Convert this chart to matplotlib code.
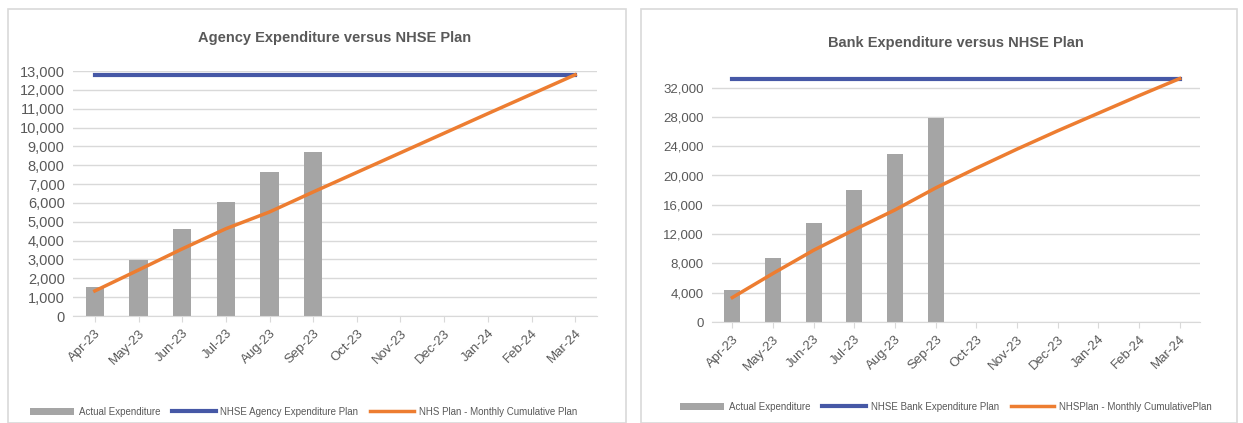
import matplotlib.pyplot as plt
from matplotlib.patches import Rectangle
import numpy as np

months = ['Apr-23', 'May-23', 'Jun-23', 'Jul-23', 'Aug-23', 'Sep-23',
          'Oct-23', 'Nov-23', 'Dec-23', 'Jan-24', 'Feb-24', 'Mar-24']

# agency (left chart)
agency_actual = [1550, 2990, 4630, 6050, 7620, 8680]
agency_plan = [12800] * 12
agency_cum = [1330, 2440, 3560, 4630, 5520, 6580, 7620, 8660, 9700, 10740, 11770, 12800]

# bank (right chart)
bank_actual = [4340, 8690, 13490, 17970, 23000, 27890]
bank_plan = [33230] * 12
bank_cum = [3340, 6630, 9800, 12600, 15300, 18300, 21000, 23600, 26100, 28500, 30900, 33230]

W, H = 1243, 423
GREY = '#A5A5A5'
BLUE = '#4658A6'
ORANGE = '#ED7D31'
TXT = '#595959'

plt.rcParams['font.family'] = ['Liberation Sans', 'DejaVu Sans']

fig = plt.figure(figsize=(W / 100, H / 100), dpi=100)

# panel frames
for x0, x1 in [(8, 626), (641, 1237)]:
    fig.patches.append(Rectangle((x0 / W, 0), (x1 - x0) / W, (H - 9) / H,
                                 transform=fig.transFigure, fill=False,
                                 edgecolor='#D9D9D9', linewidth=1.2))


def draw(ax, actual, plan, cum, ymax, ystep, title, legend_labels, bw, leg_pos,
         ytick_fs, title_pad):
    x = np.arange(len(months))
    b = ax.bar(x[:len(actual)], actual, width=bw, color=GREY, zorder=2)
    l1, = ax.plot(x, plan, color=BLUE, linewidth=3, zorder=3)
    l2, = ax.plot(x, cum, color=ORANGE, linewidth=2.5, zorder=4)
    ax.set_xlim(-0.5, len(months) - 0.5)
    ax.set_ylim(0, ymax)
    ticks = np.arange(0, ymax + 1, ystep)
    ax.set_yticks(ticks)
    ax.set_yticklabels([f'{int(t):,}' for t in ticks], color=TXT, fontsize=ytick_fs)
    ax.set_xticks(x)
    ax.set_xticklabels(months, rotation=45, ha='right', rotation_mode='anchor',
                       color=TXT, fontsize=9.5)
    ax.yaxis.grid(True, color='#D9D9D9', linewidth=1, zorder=0)
    ax.set_axisbelow(True)
    for s in ['top', 'right', 'left']:
        ax.spines[s].set_visible(False)
    ax.spines['bottom'].set_color('#D9D9D9')
    ax.tick_params(axis='y', length=0, pad=6)
    ax.tick_params(axis='x', length=4, color='#D9D9D9', pad=4)
    ax.set_title(title, fontsize=10.5, color=TXT, fontweight='bold', pad=title_pad)
    ax.legend([b, l1, l2], legend_labels, loc='center', bbox_to_anchor=leg_pos,
              ncol=3, frameon=False, fontsize=7, labelcolor=TXT, handlelength=4.5,
              columnspacing=1.2, handletextpad=0.5)


# left axes: pixel extents
l_left, l_right, l_bot, l_top = 73, 597, 316, 71
ax1 = fig.add_axes([l_left / W, (H - l_bot) / H, (l_right - l_left) / W, (l_bot - l_top) / H])
draw(ax1, agency_actual, agency_plan, agency_cum, 13000, 1000,
     'Agency Expenditure versus NHSE Plan',
     ['Actual Expenditure', 'NHSE Agency Expenditure Plan', 'NHS Plan - Monthly Cumulative Plan'],
     0.42, (0.44, -0.39), 10.5, 21)

r_left, r_right, r_bot = 712, 1200, 322
r_top = r_bot - 29.3 * 34000 / 4000
ax2 = fig.add_axes([r_left / W, (H - r_bot) / H, (r_right - r_left) / W, (r_bot - r_top) / H])
draw(ax2, bank_actual, bank_plan, bank_cum, 34000, 4000,
     'Bank Expenditure versus NHSE Plan',
     ['Actual Expenditure', 'NHSE Bank Expenditure Plan', 'NHSPlan - Monthly CumulativePlan'],
     0.39, (0.48, -0.34), 9.5, 19)

fig.savefig('out.png', dpi=100)
